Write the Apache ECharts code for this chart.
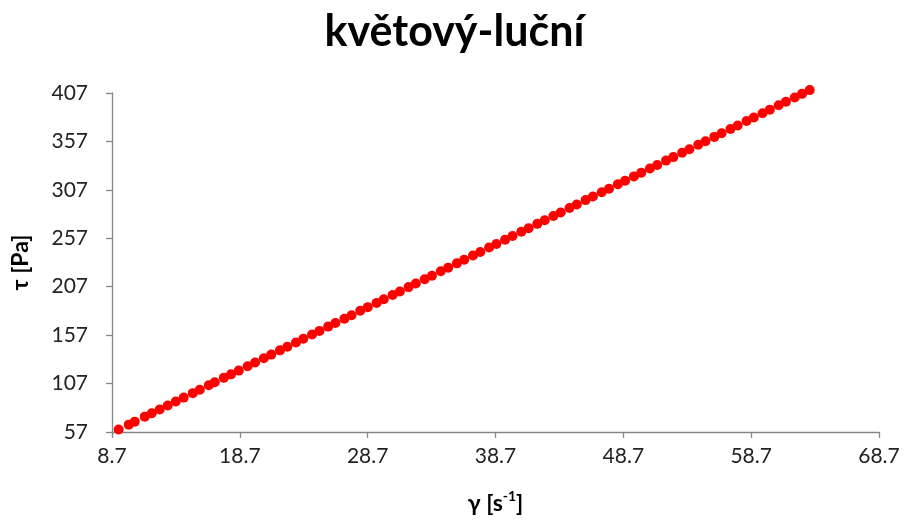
<!DOCTYPE html>
<html>
<head>
<meta charset="utf-8">
<script src="https://cdn.jsdelivr.net/npm/echarts@6/dist/echarts.min.js"></script>
<style>
  html, body { margin: 0; padding: 0; background: #fff; }
  #chart { width: 909px; height: 527px; }
</style>
</head>
<body>
<div id="chart"></div>
<script>
// Shear rate γ [s^-1]
const shearRate = [
  9.22, 10.01, 10.48, 11.26, 11.81, 12.43, 13.06, 13.69, 14.31, 15.02,
  15.57, 16.27, 16.74, 17.45, 18.01, 18.62, 19.31, 19.90, 20.58, 21.16,
  21.84, 22.42, 23.09, 23.67, 24.35, 24.93, 25.61, 26.18, 26.88, 27.44,
  28.12, 28.71, 29.40, 29.96, 30.65, 31.22, 31.90, 32.47, 33.16, 33.73,
  34.42, 35.00, 35.68, 36.25, 36.94, 37.51, 38.20, 38.77, 39.45, 40.03,
  40.72, 41.29, 41.97, 42.55, 43.23, 43.80, 44.49, 45.06, 45.75, 46.32,
  47.01, 47.58, 48.27, 48.84, 49.53, 50.10, 50.78, 51.35, 52.04, 52.61,
  53.30, 53.87, 54.56, 55.13, 55.82, 56.39, 57.08, 57.65, 58.34, 58.91,
  59.59, 60.16, 60.85, 61.42, 62.11, 62.68, 63.28
];

// Shear stress τ [Pa]
const shearStress = [
  59.5, 64.6, 67.7, 72.7, 76.3, 80.3, 84.4, 88.5, 92.5, 97.1,
  100.7, 105.2, 108.3, 112.9, 116.5, 120.4, 124.9, 128.8, 133.2, 136.9,
  141.3, 145.1, 149.4, 153.2, 157.6, 161.4, 165.8, 169.5, 174.0, 177.6,
  182.1, 185.9, 190.3, 194.0, 198.5, 202.1, 206.6, 210.3, 214.7, 218.4,
  222.9, 226.7, 231.1, 234.8, 239.2, 242.9, 247.4, 251.1, 255.5, 259.3,
  263.7, 267.4, 271.9, 275.6, 280.0, 283.7, 288.2, 291.9, 296.4, 300.1,
  304.5, 308.2, 312.7, 316.4, 320.9, 324.6, 329.0, 332.7, 337.2, 340.8,
  345.3, 349.0, 353.5, 357.2, 361.7, 365.4, 369.8, 373.5, 378.0, 381.7,
  386.1, 389.8, 394.3, 398.0, 402.4, 406.1, 410.0
];

// Axis tick positions
const xTicks = [8.7, 18.7, 28.7, 38.7, 48.7, 58.7, 68.7];
const yTicks = [57, 107, 157, 207, 257, 307, 357, 407];

const titleText = 'květový-luční';

const points = shearRate.map((x, i) => [x, shearStress[i]]);

const FONT = 'Lato, "Open Sans", "DejaVu Sans", sans-serif';
const axisGray = '#868686';

const chart = echarts.init(document.getElementById('chart'), null, { renderer: 'canvas' });

chart.setOption({
  backgroundColor: '#ffffff',
  animation: false,
  title: {
    text: titleText,
    left: 'center',
    top: 6,
    textStyle: { fontFamily: FONT, fontWeight: 'bold', fontSize: 43, color: '#000' }
  },
  grid: { left: 112, right: 30, top: 93, bottom: 95, containLabel: false },
  xAxis: {
    type: 'value',
    min: xTicks[0],
    max: xTicks[xTicks.length - 1],
    interval: xTicks[1] - xTicks[0],
    name: '{b|γ [s}{sup|-1}{b|]}',
    nameLocation: 'middle',
    nameGap: 57,
    nameTextStyle: {
      rich: {
        b: { fontFamily: FONT, fontWeight: 'bold', fontSize: 23, color: '#000', verticalAlign: 'bottom', lineHeight: 26 },
        sup: { fontFamily: FONT, fontWeight: 'bold', fontSize: 14, color: '#000', verticalAlign: 'top', padding: [0, 0, 12, 0], lineHeight: 26 }
      }
    },
    splitLine: { show: false },
    axisLine: { show: true, lineStyle: { color: axisGray, width: 1.3 } },
    axisTick: { show: true, inside: false, length: 6, lineStyle: { color: axisGray, width: 1.3 } },
    axisLabel: {
      margin: 14,
      fontFamily: FONT, fontSize: 21, color: '#222',
      formatter: v => Number(v).toFixed(1)
    }
  },
  yAxis: {
    type: 'value',
    min: yTicks[0],
    max: yTicks[yTicks.length - 1],
    interval: yTicks[1] - yTicks[0],
    name: 'τ [Pa]',
    nameLocation: 'middle',
    nameRotate: 90,
    nameGap: 80,
    nameTextStyle: { fontFamily: FONT, fontWeight: 'bold', fontSize: 23, color: '#000' },
    splitLine: { show: false },
    axisLine: { show: true, lineStyle: { color: axisGray, width: 1.3 } },
    axisTick: { show: true, inside: false, length: 6, lineStyle: { color: axisGray, width: 1.3 } },
    axisLabel: {
      margin: 24,
      fontFamily: FONT, fontSize: 21, color: '#222',
      formatter: v => String(Math.round(v))
    }
  },
  series: [{
    type: 'scatter',
    data: points,
    symbol: 'circle',
    symbolSize: 10,
    clip: false,
    itemStyle: { color: '#ff0000', opacity: 1 }
  }]
});
</script>
</body>
</html>
